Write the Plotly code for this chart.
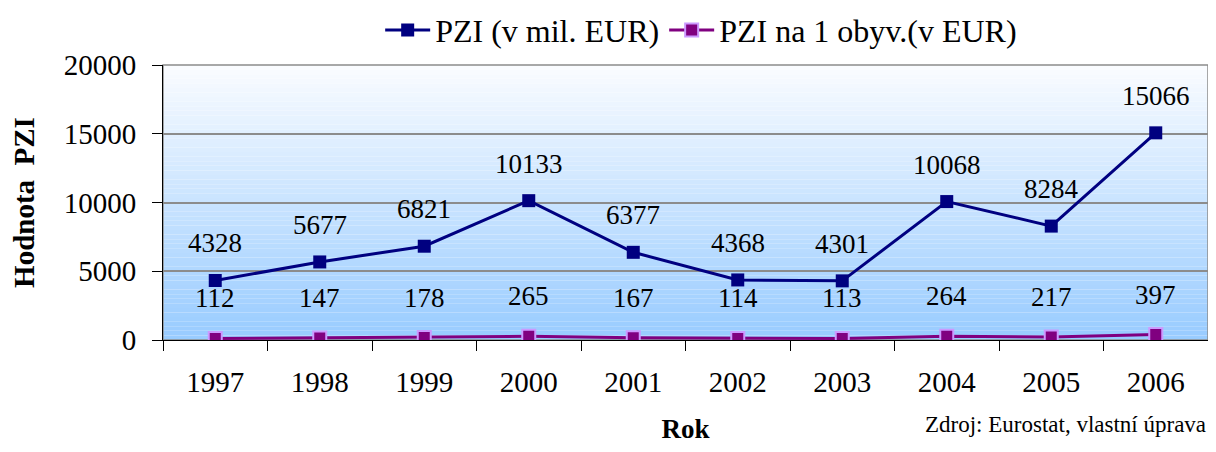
import plotly.graph_objects as go

roky = ['1997', '1998', '1999', '2000', '2001', '2002', '2003', '2004', '2005', '2006']
pzi_mil = [4328, 5677, 6821, 10133, 6377, 4368, 4301, 10068, 8284, 15066]
pzi_obyv = [112, 147, 178, 265, 167, 114, 113, 264, 217, 397]
y_ticks = [0, 5000, 10000, 15000, 20000]

FONT = 'Liberation Serif, Times New Roman, serif'

fig = go.Figure()
fig.add_trace(go.Scatter(
    x=roky, y=pzi_mil, name='PZI (v mil. EUR)',
    mode='lines+markers',
    line=dict(color='#000080', width=3),
    marker=dict(symbol='square', size=13, color='#000080')
))
fig.add_trace(go.Scatter(
    x=roky, y=pzi_obyv, name='PZI na 1 obyv.(v EUR)',
    mode='lines+markers',
    line=dict(color='#800080', width=3),
    marker=dict(symbol='square', size=13, color='#800080',
                line=dict(color='#CC99FF', width=2))
))

# popisky hodnot (x jako index kategorie)
ann = []
for i, v in enumerate(pzi_mil):
    ann.append(dict(x=i, y=v, text=str(v), showarrow=False, yshift=37,
                    font=dict(family=FONT, size=27, color='black')))
for i, v in enumerate(pzi_obyv):
    ann.append(dict(x=i, y=v, text=str(v), showarrow=False, yshift=40,
                    font=dict(family=FONT, size=27, color='black')))
ann.append(dict(xref='paper', yref='paper', x=1.0, y=-0.309, xanchor='right',
                yanchor='middle', text='Zdroj: Eurostat, vlastní úprava',
                showarrow=False, font=dict(family=FONT, size=23, color='black')))

# gradient pozadi (bila -> svetle modra)
shapes = []
n = 60
for i in range(n):
    t = i / (n - 1)
    r = int(153 + (250 - 153) * t)
    g = int(204 + (252 - 204) * t)
    shapes.append(dict(type='rect', xref='paper', yref='paper', layer='below',
                       x0=0, x1=1, y0=i / n, y1=(i + 1) / n,
                       line=dict(width=0), fillcolor=f'rgb({r},{g},255)'))

fig.update_layout(
    width=1200, height=436,
    margin=dict(l=155, r=0, t=57, b=104, autoexpand=False),
    paper_bgcolor='white', plot_bgcolor='white',
    font=dict(family=FONT, size=29, color='black'),
    showlegend=True,
    legend=dict(orientation='h', x=0.515, y=1.127, xanchor='center', yanchor='middle',
                font=dict(family=FONT, size=32), bgcolor='rgba(0,0,0,0)',
                itemwidth=45, tracegroupgap=0),
    xaxis=dict(
        type='category', range=[-0.5, 9.5],
        showline=True, linecolor='black', linewidth=1, mirror=False,
        ticks='outside', tickson='boundaries', ticklen=10, tickcolor='black',
        ticklabelstandoff=16,
        showgrid=False, tickfont=dict(family=FONT, size=29),
        title=dict(text='<b>Rok</b>', font=dict(family=FONT, size=27), standoff=26)
    ),
    yaxis=dict(
        range=[0, 20000], tickvals=y_ticks, tickformat='d',
        showline=True, linecolor='black', linewidth=1,
        ticks='outside', ticklen=10, tickcolor='black', ticklabelstandoff=10,
        showgrid=True, gridcolor='#8c8c8c', gridwidth=1.5, zeroline=False,
        tickfont=dict(family=FONT, size=29),
        title=dict(text='<b>Hodnota  PZI</b>', font=dict(family=FONT, size=29), standoff=28)
    ),
    shapes=shapes + [dict(type='rect', xref='paper', yref='paper', x0=0, x1=1, y0=0, y1=1,
                          line=dict(color='#8c8c8c', width=1.5), layer='below')],
    annotations=ann
)

fig.write_html("out.html")
